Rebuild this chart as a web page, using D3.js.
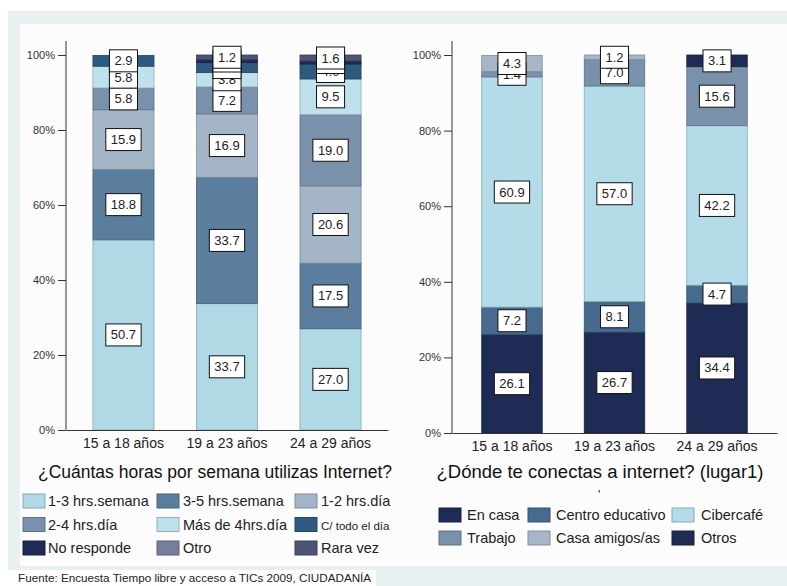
<!DOCTYPE html>
<html>
<head>
<meta charset="utf-8">
<script src="https://cdn.jsdelivr.net/npm/d3@7"></script>
<style>
  html, body { margin: 0; padding: 0; background: #ffffff; }
  svg { display: block; font-family: "Liberation Sans", Arial, sans-serif; }
</style>
</head>
<body>
<svg id="chart" width="787" height="586"></svg>
<script>
// Age groups shared by both panels
const ageGroups = ["15 a 18 años", "19 a 23 años", "24 a 29 años"];

// Panel 1: hours per week using Internet (percent per age group)
const hoursSeries = ["1-3 hrs.semana", "3-5 hrs.semana", "1-2 hrs.día",
                     "2-4 hrs.día", "Más de 4hrs.día", "C/ todo el día",
                     "No responde", "Otro", "Rara vez"];
const hoursValues = [
  [50.7, 33.7, 27.0],
  [18.8, 33.7, 17.5],
  [15.9, 16.9, 20.6],
  [5.8, 7.2, 19.0],
  [5.8, 3.8, 9.5],
  [2.9, 2.7, 4.0],
  [0, 0.8, 0.8],
  [0, 0, 0],
  [0, 1.2, 1.6]
];
const hoursColors = ["#b0d9e6", "#5b7e9e", "#a4b5c7", "#7a91ab", "#bfe1eb",
                     "#2f5a80", "#1f2b54", "#767e9a", "#4c5373"];

// Panel 2: where people connect to the Internet (percent per age group)
const placeSeries = ["En casa", "Centro educativo", "Cibercafé",
                     "Trabajo", "Casa amigos/as", "Otros"];
const placeValues = [
  [26.1, 26.7, 34.4],
  [7.2, 8.1, 4.7],
  [60.9, 57.0, 42.2],
  [1.4, 7.0, 15.6],
  [4.3, 1.2, 0],
  [0, 0, 3.1]
];
const placeColors = ["#1e2b55", "#466b8f", "#b3dbe8", "#7a91ab", "#a6b6c8", "#1e2b55"];

const percentTicks = [0, 20, 40, 60, 80, 100];

const svg = d3.select("#chart");

// Background frame and panel
svg.append("rect").attr("x", 8).attr("y", 11).attr("width", 779).attr("height", 575)
  .attr("fill", "#e8f0f2");
svg.append("rect").attr("x", 20).attr("y", 24).attr("width", 767).attr("height", 542)
  .attr("fill", "#fcfcfc");
svg.append("rect").attr("x", 0).attr("y", 570).attr("width", 376).attr("height", 16)
  .attr("fill", "#ffffff");

function drawPanel(cfg) {
  const g = svg.append("g");
  const x = d3.scaleBand().domain(ageGroups)
    .range([cfg.x0, cfg.x1]).paddingInner(0.41).paddingOuter(cfg.outer);
  const y = d3.scaleLinear().domain([0, 100]).range([cfg.yBottom, cfg.yTop]);

  // stacked data
  const rows = ageGroups.map((a, i) => {
    const r = { group: a };
    cfg.series.forEach((s, k) => { r[s] = cfg.values[k][i]; });
    return r;
  });
  const stacked = d3.stack().keys(cfg.series)(rows);

  // bars
  stacked.forEach((layer, k) => {
    const fill = cfg.colors[k];
    g.append("g").selectAll("rect").data(layer.filter(d => d[1] - d[0] > 0)).join("rect")
      .attr("x", d => x(d.data.group))
      .attr("width", x.bandwidth())
      .attr("y", d => y(d[1]))
      .attr("height", d => y(d[0]) - y(d[1]))
      .attr("fill", fill)
      .attr("stroke", d3.color(fill).darker(0.7))
      .attr("stroke-width", 0.8);
  });

  // y axis
  const yAxis = d3.axisLeft(y).tickValues(percentTicks).tickSize(8).tickPadding(3)
    .tickFormat(d => d + "%");
  const ya = g.append("g").attr("transform", `translate(${cfg.x0},0)`).call(yAxis);
  ya.select(".domain").remove();
  ya.selectAll(".tick line").attr("stroke", "#333");
  ya.selectAll("text").attr("font-size", 11).attr("fill", "#333")
    .attr("font-family", "Liberation Sans, Arial, sans-serif");
  g.append("line").attr("x1", cfg.x0).attr("x2", cfg.x0)
    .attr("y1", cfg.yTop - 14).attr("y2", cfg.yBottom).attr("stroke", "#333");

  // x axis
  const xAxis = d3.axisBottom(x).tickSize(0).tickPadding(8);
  const xa = g.append("g").attr("transform", `translate(0,${cfg.yBottom})`).call(xAxis);
  xa.select(".domain").attr("stroke", "#333");
  xa.selectAll("text").attr("font-size", 14).attr("fill", "#222")
    .attr("font-family", "Liberation Sans, Arial, sans-serif");

  // value labels in boxes
  const lab = g.append("g");
  stacked.forEach(layer => {
    layer.forEach(d => {
      const v = d[1] - d[0];
      if (v <= 0) return;
      const cx = x(d.data.group) + x.bandwidth() / 2;
      const cy = y((d[0] + d[1]) / 2);
      const box = lab.append("g");
      const r = box.append("rect").attr("fill", "#ffffff").attr("stroke", "#111")
        .attr("stroke-width", 1);
      const t = box.append("text").attr("x", cx).attr("y", cy + 4.5)
        .attr("text-anchor", "middle").attr("font-size", 13).attr("fill", "#222")
        .text(d3.format(".1f")(v));
      const w = t.node().getComputedTextLength() + 10;
      r.attr("x", cx - w / 2).attr("y", cy - 11).attr("width", w).attr("height", 22);
    });
  });

  // title
  g.append("text").attr("x", cfg.titleX).attr("y", 478).attr("text-anchor", "middle")
    .attr("font-size", cfg.titleSize).attr("fill", "#111").text(cfg.title);

  // legend
  const lg = g.append("g");
  cfg.legend.forEach((item, i) => {
    const col = i % 3, row = Math.floor(i / 3);
    const sx = cfg.legendCols[col];
    const sy = cfg.legendTop + row * cfg.legendRow;
    const fill = cfg.colors[i];
    lg.append("rect").attr("x", sx).attr("y", sy).attr("width", 22).attr("height", 14)
      .attr("fill", fill).attr("stroke", d3.color(fill).darker(0.7)).attr("stroke-width", 1);
    lg.append("text").attr("x", sx + cfg.textGap[col]).attr("y", sy + 12)
      .attr("font-size", item.small ? 11.5 : 14.5).attr("fill", "#222").text(item.name);
  });
}

drawPanel({
  x0: 66, x1: 388, outer: 0.26, yTop: 55, yBottom: 430,
  series: hoursSeries, values: hoursValues, colors: hoursColors,
  title: "¿Cuántas horas por semana utilizas Internet?", titleX: 215, titleSize: 17.5,
  legend: hoursSeries.map(s => ({ name: s, small: s === "C/ todo el día" })),
  legendCols: [23, 157, 295], textGap: [25, 26, 26], legendTop: 494, legendRow: 23.5
});

drawPanel({
  x0: 452, x1: 777, outer: 0.29, yTop: 55, yBottom: 433,
  series: placeSeries, values: placeValues, colors: placeColors,
  title: "¿Dónde te conectas a internet? (lugar1)", titleX: 600, titleSize: 18.5,
  legend: placeSeries.map(s => ({ name: s, small: false })),
  legendCols: [439, 528, 672], textGap: [28, 28, 29], legendTop: 508, legendRow: 23
});

svg.append("text").attr("x", 598).attr("y", 499).attr("font-size", 12).attr("fill", "#222")
  .text("'");

// source note
svg.append("text").attr("x", 18).attr("y", 582).attr("font-size", 11.7).attr("fill", "#222")
  .text("Fuente: Encuesta Tiempo libre y acceso a TICs 2009, CIUDADANÍA");
</script>
</body>
</html>
